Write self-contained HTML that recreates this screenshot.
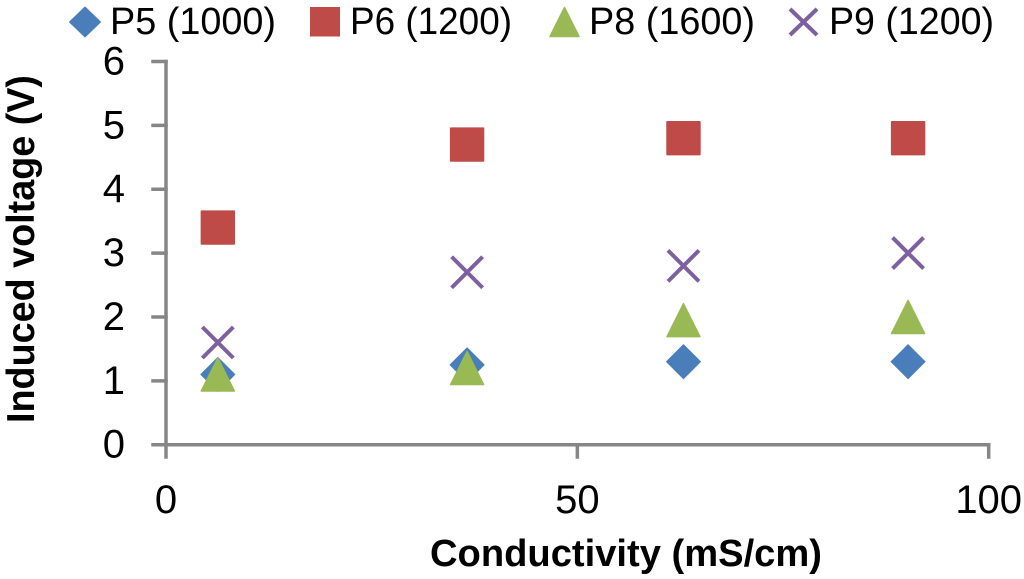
<!DOCTYPE html>
<html lang="en">
<head>
<meta charset="utf-8">
<title>Induced voltage vs conductivity</title>
<style>
html,body{margin:0;padding:0;background:#fff;width:1024px;height:579px;overflow:hidden}
svg{display:block;font-family:"Liberation Sans",sans-serif}
text{fill:#000}
</style>
</head>
<body>
<svg id="chart" xmlns="http://www.w3.org/2000/svg" width="1024" height="579" viewBox="0 0 1024 579">
  <g>
    <g>
      <polygon points="85,7 100.5,22 85,37 69.500,22" fill="#4a7ebb" stroke="#4a7ebb" stroke-width="1" stroke-linejoin="round"/>
      <text x="110" y="34" font-size="38" textLength="166" lengthAdjust="spacingAndGlyphs">P5 (1000)</text>
    </g>
    <g>
      <rect x="310" y="7" width="30" height="29.500" fill="#be4b48"/>
      <text x="350" y="34" font-size="38" textLength="162" lengthAdjust="spacingAndGlyphs">P6 (1200)</text>
    </g>
    <g>
      <polygon points="564.500,7.500 579,36.500 550,36.500" fill="#98b954" stroke="#98b954" stroke-width="1.500" stroke-linejoin="round"/>
      <text x="589" y="34" font-size="38" textLength="166" lengthAdjust="spacingAndGlyphs">P8 (1600)</text>
    </g>
    <g>
      <path d="M790,9 L817,35 M817,9 L790,35" stroke="#7d60a0" stroke-width="4" fill="none"/>
      <text x="829" y="34" font-size="38" textLength="165" lengthAdjust="spacingAndGlyphs">P9 (1200)</text>
    </g>
  </g>
  <g id="axes"></g>
  <g id="marks"></g>
  <text transform="translate(34,423) rotate(-90)" font-size="39" font-weight="700" textLength="348" lengthAdjust="spacingAndGlyphs">Induced voltage (V)</text>
  <text x="430" y="566" font-size="38" font-weight="700" textLength="392" lengthAdjust="spacingAndGlyphs">Conductivity (mS/cm)</text>
</svg>
<script>
var xTicks = [0, 50, 100];
var yTicks = [0, 1, 2, 3, 4, 5, 6];
var conductivity = [6.3, 36.6, 62.9, 90.2];
var p5Values = [1.1, 1.25, 1.3, 1.3];
var p6Values = [3.4, 4.7, 4.8, 4.8];
var p8Values = [1.1, 1.2, 1.95, 2.0];
var p9Values = [1.6, 2.7, 2.8, 3.0];

var NS = 'http://www.w3.org/2000/svg';
var axes = document.getElementById('axes');
var marks = document.getElementById('marks');
function sx(v) { return 166 + (v - 0) * (988.7 - 166) / 100; }
function sy(v) { return 444.7 - v * (444.7 - 61.5) / 6; }
function make(tag, attrs, parent) {
  var el = document.createElementNS(NS, tag);
  for (var k in attrs) { el.setAttribute(k, attrs[k]); }
  parent.appendChild(el);
  return el;
}
var AXIS = '#868686';
function line(x1, y1, x2, y2, parent) {
  var attrs = { x1: x1, y1: y1, x2: x2, y2: y2, stroke: AXIS, 'stroke-width': 3.5, 'stroke-linecap': 'square' };
  return make('line', attrs, parent);
}

var yAxisLine = line(sx(0), sy(yTicks[yTicks.length - 1]), sx(0), sy(0), axes);


var xAxisLine = line(sx(0), sy(0), sx(xTicks[xTicks.length - 1]), sy(0), axes);



yTicks.forEach(function (t) {
  var tick = line(153, sy(t), sx(0), sy(t), axes);
  
  
  var label = make('text', { x: 125, y: sy(t) + 13, 'font-size': 40, 'text-anchor': 'end' }, axes);
  label.textContent = String(t);
  
  
});
xTicks.forEach(function (t) {
  var tick = line(sx(t), sy(0), sx(t), 457, axes);
  
  
  var label = make('text', { x: sx(t), y: 513, 'font-size': 40, 'text-anchor': 'middle' }, axes);
  label.textContent = String(t);
  
  
});

function drawDiamond(x, y) {
  return make('polygon', { points: x + ',' + (y - 17) + ' ' + (x + 17) + ',' + y + ' ' + x + ',' + (y + 17) + ' ' + (x - 17) + ',' + y, fill: '#4a7ebb', stroke: '#4a7ebb', 'stroke-width': 1, 'stroke-linejoin': 'round' }, marks);
}
function drawSquare(x, y) {
  return make('rect', { x: x - 17.2, y: y - 17.2, width: 34.4, height: 34.4, rx: 1, fill: '#be4b48' }, marks);
}
function drawTriangle(x, y) {
  return make('polygon', { points: x + ',' + (y - 16.5) + ' ' + (x + 16.5) + ',' + (y + 16.5) + ' ' + (x - 16.5) + ',' + (y + 16.5), fill: '#98b954', stroke: '#98b954', 'stroke-width': 1.5, 'stroke-linejoin': 'round' }, marks);
}
function drawCross(x, y) {
  return make('path', { d: 'M' + (x - 15.5) + ',' + (y - 15.5) + ' L' + (x + 15.5) + ',' + (y + 15.5) + ' M' + (x + 15.5) + ',' + (y - 15.5) + ' L' + (x - 15.5) + ',' + (y + 15.5), stroke: '#7d60a0', 'stroke-width': 4, fill: 'none' }, marks);
}

p5Values.forEach(function (v, i) {
  var m = drawDiamond(sx(conductivity[i]), sy(v));
  
  
});
p6Values.forEach(function (v, i) {
  var m = drawSquare(sx(conductivity[i]), sy(v));
  
  
});
p8Values.forEach(function (v, i) {
  var m = drawTriangle(sx(conductivity[i]), sy(v));
  
  
});
p9Values.forEach(function (v, i) {
  var m = drawCross(sx(conductivity[i]), sy(v));
  
  
});
</script>
</body>
</html>
